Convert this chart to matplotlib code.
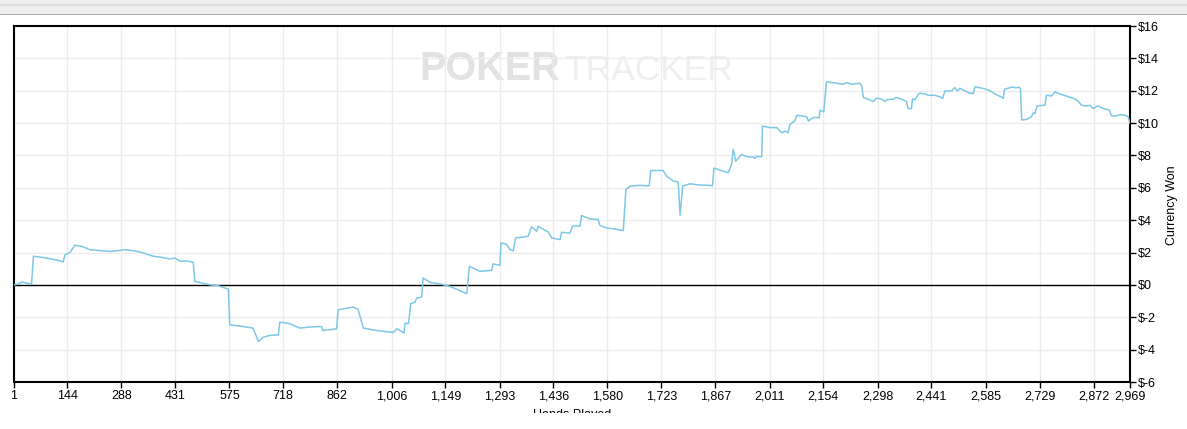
import matplotlib
matplotlib.use("Agg")
import matplotlib.pyplot as plt
from matplotlib.patches import Rectangle

plt.rcParams['font.family'] = ['Liberation Sans', 'DejaVu Sans']

# hands played vs. cumulative winnings
hands = [1, 13, 23, 34, 49, 54, 71, 98, 119, 133, 138, 151, 164, 183, 204, 231, 257, 279, 297, 316,
         337, 356, 373, 396, 417, 430, 444, 462, 479, 483, 502, 523, 545, 572, 576, 595, 612, 624, 638, 652,
         665, 683, 705, 709, 736, 762, 789, 820, 824, 860, 864, 885, 904, 917, 931, 966, 988, 1011, 1020, 1031,
         1039, 1042, 1051, 1057, 1068, 1073, 1086, 1090, 1108, 1135, 1161, 1182, 1201, 1206, 1213, 1241, 1272, 1276, 1294, 1297,
         1312, 1321, 1329, 1336, 1369, 1378, 1392, 1396, 1423, 1432, 1454, 1458, 1480, 1487, 1507, 1511, 1533, 1555, 1560, 1578,
         1600, 1622, 1629, 1640, 1666, 1691, 1695, 1728, 1737, 1755, 1768, 1773, 1780, 1799, 1826, 1852, 1859, 1863, 1901, 1910,
         1914, 1921, 1937, 1950, 1967, 1972, 1976, 1990, 1992, 2012, 2030, 2043, 2052, 2060, 2065, 2078, 2083, 2109, 2114, 2127,
         2143, 2145, 2155, 2162, 2180, 2207, 2216, 2229, 2251, 2256, 2260, 2273, 2286, 2295, 2309, 2318, 2322, 2340, 2347, 2362,
         2375, 2379, 2388, 2391, 2397, 2409, 2424, 2433, 2450, 2464, 2471, 2477, 2495, 2503, 2510, 2517, 2530, 2543, 2552, 2557,
         2579, 2597, 2610, 2628, 2632, 2636, 2654, 2668, 2674, 2678, 2681, 2694, 2707, 2712, 2716, 2722, 2738, 2743, 2747, 2761,
         2769, 2783, 2809, 2822, 2831, 2840, 2854, 2862, 2871, 2884, 2898, 2914, 2920, 2933, 2942, 2955, 2964, 2969]
won = [0.0, 0.05, 0.18, 0.12, 0.05, 1.77, 1.72, 1.62, 1.52, 1.42, 1.87, 2.0, 2.45, 2.38, 2.18, 2.12, 2.07, 2.12, 2.18, 2.12,
       2.04, 1.9, 1.77, 1.7, 1.6, 1.66, 1.46, 1.48, 1.4, 0.22, 0.12, 0.01, -0.05, -0.26, -2.47, -2.52, -2.57, -2.62, -2.67, -3.5,
       -3.23, -3.12, -3.09, -2.3, -2.4, -2.67, -2.6, -2.57, -2.82, -2.71, -1.54, -1.45, -1.37, -1.5, -2.67, -2.82, -2.88, -2.94, -2.71, -2.85,
       -2.98, -2.36, -2.4, -1.16, -1.07, -0.81, -0.75, 0.43, 0.16, 0.06, -0.09, -0.3, -0.5, -0.55, 1.15, 0.84, 0.9, 1.3, 1.21, 2.6,
       2.5, 2.18, 2.1, 2.9, 3.0, 3.59, 3.32, 3.63, 3.25, 2.9, 2.8, 3.25, 3.2, 3.63, 3.63, 4.29, 4.08, 4.05, 3.67, 3.52,
       3.45, 3.36, 5.9, 6.1, 6.15, 6.12, 7.07, 7.07, 6.72, 6.42, 6.35, 4.31, 6.1, 6.25, 6.17, 6.15, 6.12, 7.22, 6.93, 7.45,
       8.38, 7.65, 8.07, 7.92, 7.9, 7.82, 7.95, 7.92, 9.82, 9.72, 9.72, 9.4, 9.5, 9.41, 9.93, 10.13, 10.48, 10.4, 10.13, 10.34,
       10.34, 10.8, 10.69, 12.55, 12.5, 12.4, 12.5, 12.4, 12.46, 12.3, 11.58, 11.48, 11.33, 11.54, 11.48, 11.33, 11.44, 11.48, 11.58, 11.48,
       11.33, 10.9, 10.9, 11.5, 11.44, 11.85, 11.8, 11.72, 11.72, 11.62, 11.52, 11.99, 11.99, 12.2, 11.99, 12.15, 11.99, 11.85, 11.82, 12.24,
       12.14, 12.0, 11.8, 11.6, 11.52, 12.09, 12.22, 12.18, 12.22, 12.09, 10.19, 10.23, 10.39, 10.64, 10.58, 11.06, 11.1, 11.1, 11.72, 11.68,
       11.93, 11.8, 11.6, 11.5, 11.35, 11.1, 11.06, 11.1, 10.9, 11.06, 10.9, 10.8, 10.44, 10.44, 10.52, 10.48, 10.4, 9.99]

xticks = [1, 144, 288, 431, 575, 718, 862, 1006, 1149, 1293, 1436, 1580, 1723, 1867,
          2011, 2154, 2298, 2441, 2585, 2729, 2872, 2969]
yticks = [-6, -4, -2, 0, 2, 4, 6, 8, 10, 12, 14, 16]

W, H = 1187, 429
fig = plt.figure(figsize=(W / 100, H / 100), dpi=100)
fig.patch.set_facecolor('white')

# toolbar strip at the top of the screenshot
fig.add_artist(Rectangle((0, 1 - 14 / H), 1, 14 / H, transform=fig.transFigure,
                         facecolor='#eeeff0', edgecolor='none', zorder=0))
fig.add_artist(Rectangle((0, 1 - 5.5 / H), 1, 1 / H, transform=fig.transFigure,
                         facecolor='#dcdcdc', edgecolor='none', zorder=0))
fig.add_artist(Rectangle((0, 1 - 15 / H), 1, 1.2 / H, transform=fig.transFigure,
                         facecolor='#a8a8a8', edgecolor='none', zorder=0))

left, right, top, bottom = 13.5, 1130, 26, 382
ax = fig.add_axes([left / W, 1 - bottom / H, (right - left) / W, (bottom - top) / H])

# watermark
ax.text(560 / W, 1 - 80 / H, 'POKER', transform=fig.transFigure, ha='right', va='baseline',
        fontsize=28.5, fontweight='bold', color='#e2e2e2', zorder=0.2)
ax.text(564 / W, 1 - 80 / H, 'TRACKER', transform=fig.transFigure, ha='left', va='baseline',
        fontsize=25.5, color='#efefef', zorder=0.2)

ax.plot(hands, won, color='#7ec8e6', lw=1.1, zorder=3)
ax.axhline(0, color='black', lw=1.0, zorder=2)

ax.set_xlim(1, 2969)
ax.set_ylim(-6, 16)
ax.set_xticks(xticks)
ax.set_xticklabels(['{:,}'.format(v) for v in xticks])
ax.set_yticks(yticks)
ax.set_yticklabels(['${}'.format(v) for v in yticks])
ax.yaxis.tick_right()
ax.yaxis.set_label_position('right')
ax.tick_params(axis='both', labelsize=9, length=4, width=1, color='black', pad=2)
ax.grid(True, color='#ececec', lw=1)
ax.set_axisbelow(True)
for s in ax.spines.values():
    s.set_linewidth(1.5)
    s.set_color('black')

fig.text(1172 / W, 1 - 205 / H, 'Currency Won', rotation=90, ha='center', va='center', fontsize=9)
fig.text((left + right) / 2 / W, 1 - 409 / H, 'Hands Played', ha='center', va='top', fontsize=9)
# the x label is cut off at the bottom of the screenshot
fig.add_artist(Rectangle((0, 0), 1, (H - 413) / H, transform=fig.transFigure,
                         facecolor='white', edgecolor='none', zorder=20))

fig.savefig('out.png', dpi=100)
